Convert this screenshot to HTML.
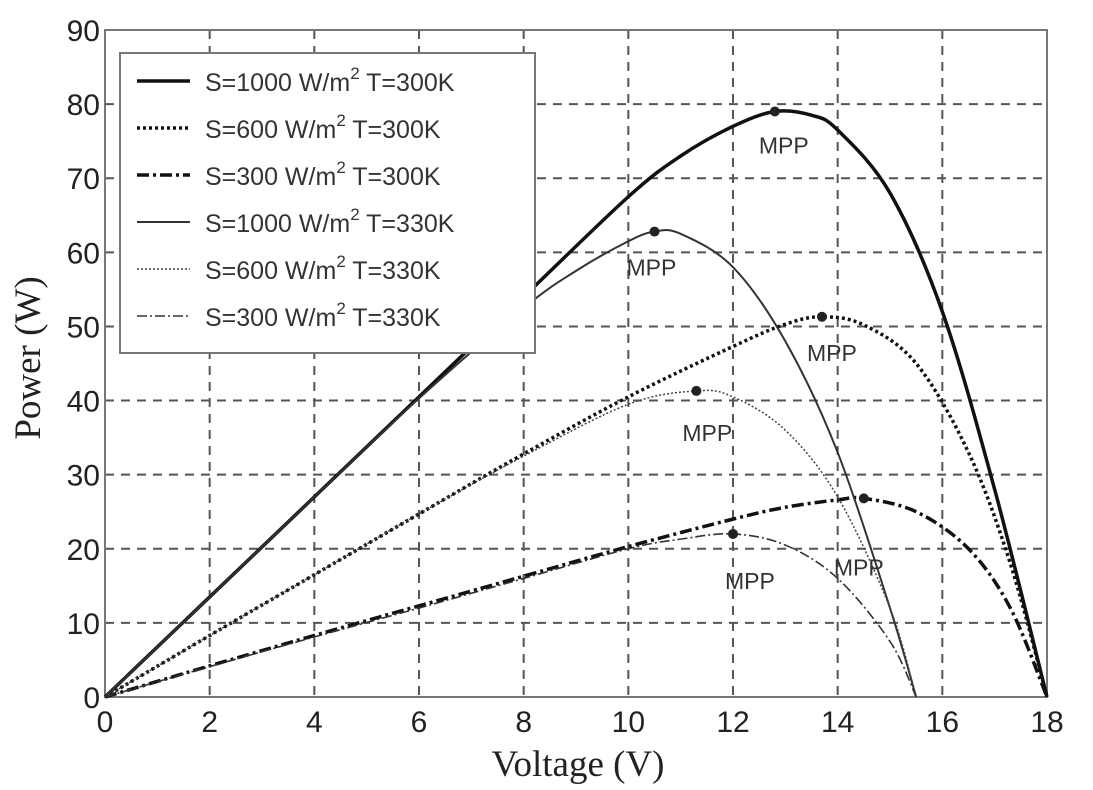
<!DOCTYPE html>
<html><head><meta charset="utf-8">
<style>
html,body{margin:0;padding:0;background:#fff;}
svg{display:block;}
.tick{font-family:"Liberation Sans",sans-serif;font-size:30px;fill:#222;}
.title{font-family:"Liberation Serif",serif;font-size:37px;fill:#222;}
.leg{font-family:"Liberation Sans",sans-serif;font-size:25px;fill:#333;}
.mpp{font-family:"Liberation Sans",sans-serif;font-size:23px;fill:#333;}
</style></head>
<body>
<svg id="chart" width="1093" height="790" viewBox="0 0 1093 790">
<g id="grid"></g>
<g id="axes"></g>
<g id="series"></g>
<g id="legend"></g>
<text class="title" x="578" y="776" text-anchor="middle">Voltage (V)</text>
<text class="title" transform="translate(40,358) rotate(-90)" text-anchor="middle">Power (W)</text>
</svg>
<script>
const xTicks=[0,2,4,6,8,10,12,14,16,18];
const yTicks=[0,10,20,30,40,50,60,70,80,90];
const seriesNames=["S=1000 W/m2 T=300K","S=600 W/m2 T=300K","S=300 W/m2 T=300K","S=1000 W/m2 T=330K","S=600 W/m2 T=330K","S=300 W/m2 T=330K"];
const v1000_300=[0,2,4,6,8,10,11,12,12.8,13.5,14,15,16,17,18];
const p1000_300=[0,13.5,27,40.5,54,67.5,73,77,79,78.5,76.5,68,52,28,0];
const v600_300=[0,2,4,6,8,10,12,13,13.7,14.5,15.5,16.5,17.3,18];
const p600_300=[0,8.3,16.5,24.7,32.8,40.5,47.3,50.3,51.3,50.2,45,33,18,0];
const v300_300=[0,2,4,6,8,10,12,13,14,14.5,15.5,16.5,17.3,18];
const p300_300=[0,4.2,8.3,12.3,16.3,20.3,24,25.6,26.6,26.8,25,20,12,0];
const v1000_330=[0,2,4,6,8,9,10,10.5,11,12,13,14,15,15.5];
const p1000_330=[0,13.5,27,40.3,52.5,57.5,61.5,62.8,62.5,58,48,33,12,0];
const v600_330=[0,2,4,6,8,10,11.3,12,13,14,15,15.5];
const p600_330=[0,8.3,16.5,24.7,32.5,39.5,41.3,40.5,36,27,12,0];
const v300_330=[0,2,4,6,8,10,11,12,13,14,15,15.5];
const p300_330=[0,4.1,8.1,12,16,20,21.3,22,20.5,16,7.5,0];
const mppV=[12.8,10.5,13.7,11.3,14.5,12];
const mppP=[79,62.8,51.3,41.3,26.8,22];
const mppLabelDx=[-16,-28,-15,-14,-30,-8];
const mppLabelDy=[42,44,44,50,77,55];

const L=105,R=1047,T=30,B=697;
const sx=v=>L+(v/18)*(R-L);
const sy=p=>B-(p/90)*(B-T);
const NS="http://www.w3.org/2000/svg";
function mk(tag,attrs,parent){const e=document.createElementNS(NS,tag);for(const k in attrs)e.setAttribute(k,attrs[k]);parent.appendChild(e);return e;}
const grid=document.getElementById('grid'),axes=document.getElementById('axes'),series=document.getElementById('series'),legend=document.getElementById('legend');
xTicks.forEach(t=>{
  if(t>0&&t<18){const g=mk('line',{x1:sx(t),x2:sx(t),y1:T,y2:B,stroke:'#555','stroke-width':2,'stroke-dasharray':'9 7'},grid);
  
  }
  const tx=mk('text',{x:sx(t),y:B+35,'text-anchor':'middle',class:'tick'},axes);tx.textContent=t;
  
  
});
yTicks.forEach(t=>{
  if(t>0&&t<90){const g=mk('line',{x1:L,x2:R,y1:sy(t),y2:sy(t),stroke:'#555','stroke-width':2,'stroke-dasharray':'9 7'},grid);
  
  }
  const tx=mk('text',{x:L-5,y:sy(t)+11,'text-anchor':'end',class:'tick'},axes);tx.textContent=t;
  
  
});
const frame=mk('rect',{x:L,y:T,width:R-L,height:B-T,fill:'none',stroke:'#777','stroke-width':2},axes);



function pathFrom(vs,ps){
  const pts=vs.map((v,i)=>[sx(v),sy(ps[i])]);
  let d='M'+pts[0][0]+','+pts[0][1];
  for(let i=0;i<pts.length-1;i++){
    const p0=pts[Math.max(0,i-1)],p1=pts[i],p2=pts[i+1],p3=pts[Math.min(pts.length-1,i+2)];
    const c1=[p1[0]+(p2[0]-p0[0])/6,p1[1]+(p2[1]-p0[1])/6];
    const c2=[p2[0]-(p3[0]-p1[0])/6,p2[1]-(p3[1]-p1[1])/6];
    d+=` C${c1[0]},${c1[1]} ${c2[0]},${c2[1]} ${p2[0]},${p2[1]}`;
  }
  return d;
}
const styles=[
 {w:3.5,dash:'',c:'#111'},
 {w:3.5,dash:'3 3',c:'#111'},
 {w:3.5,dash:'12 4 3 4',c:'#111'},
 {w:2,dash:'',c:'#333'},
 {w:1.5,dash:'2 2',c:'#444'},
 {w:1.6,dash:'10 3 2 3',c:'#333'}
];
const data=[[v1000_300,p1000_300],[v600_300,p600_300],[v300_300,p300_300],[v1000_330,p1000_330],[v600_330,p600_330],[v300_330,p300_330]];
const sNames=['curve-1000-300k','curve-600-300k','curve-300-300k','curve-1000-330k','curve-600-330k','curve-300-330k'];
data.forEach((d,i)=>{
  const p=mk('path',{d:pathFrom(d[0],d[1]),fill:'none',stroke:styles[i].c,'stroke-width':styles[i].w,'stroke-dasharray':styles[i].dash},series);
  
  
});
mppV.forEach((v,i)=>{
  const c=mk('circle',{cx:sx(v),cy:sy(mppP[i]),r:5,fill:'#222'},series);
  
  
  const t=mk('text',{x:sx(v)+mppLabelDx[i],y:sy(mppP[i])+mppLabelDy[i],class:'mpp'},series);t.textContent='MPP';
  
  
});
const lb=mk('rect',{x:120,y:53,width:415,height:300,fill:'#fff',stroke:'#777','stroke-width':2},legend);


seriesNames.forEach((n,i)=>{
  const y=81+i*47;
  const ln=mk('line',{x1:137,x2:190,y1:y,y2:y,stroke:styles[i].c,'stroke-width':styles[i].w,'stroke-dasharray':styles[i].dash},legend);
  
  
  const parts=n.split('m2');
  const t=mk('text',{x:205,y:y+10,class:'leg'},legend);
  
  
  t.appendChild(document.createTextNode(parts[0]+'m'));
  const sup=mk('tspan',{dy:-12,'font-size':17},t);sup.textContent='2';
  const rest=mk('tspan',{dy:12},t);rest.textContent=parts[1];
});
</script>
</body></html>
